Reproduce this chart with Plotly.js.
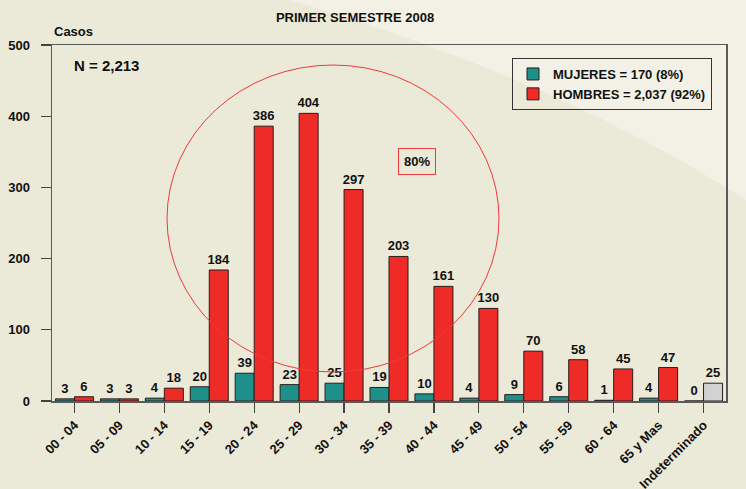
<!DOCTYPE html>
<html>
<head>
<meta charset="utf-8">
<script src="https://cdn.plot.ly/plotly-3.0.1.min.js"></script>
<style>
  html, body { margin: 0; padding: 0; }
  body {
    width: 746px; height: 489px; overflow: hidden;
    background-color: #EBE9D8;
    background-image: url("data:image/svg+xml;utf8,<svg xmlns='http://www.w3.org/2000/svg' width='746' height='489'><path d='M290 0 Q 560 80 746 200 L 746 0 Z' fill='%23F3F1E6'/></svg>");
    background-repeat: no-repeat;
  }
  #chart { width: 746px; height: 489px; }
</style>
</head>
<body>
<div id="chart"></div>
<script>
const categories = ["00 - 04","05 - 09","10 - 14","15 - 19","20 - 24","25 - 29","30 - 34","35 - 39","40 - 44","45 - 49","50 - 54","55 - 59","60 - 64","65 y Mas","Indeterminado"];
const mujeres = [3,3,4,20,39,23,25,19,10,4,9,6,1,4,0];
const hombres = [6,3,18,184,386,404,297,203,161,130,70,58,45,47,25];
const legendNames = ["MUJERES = 170 (8%)", "HOMBRES = 2,037 (92%)"];
const chartTitle = "PRIMER SEMESTRE 2008";
const yTitle = "Casos";
const totalLabel = "N = 2,213";
const ellipseLabel = "80%";

const FONT = "Liberation Sans, Arial, Helvetica, sans-serif";
const TEAL = "#1F8F89";
const RED = "#EE2B26";
const GRAY = "#D2D2D2";
const EDGE = "#2b1d1d";

const hombresColors = categories.map(c => c === "Indeterminado" ? GRAY : RED);

const lbl = {family: FONT, size: 13, color: "#111", weight: 700};

const traces = [
  {
    type: "bar", x: categories, y: mujeres, name: legendNames[0],
    marker: {color: TEAL, line: {color: EDGE, width: 1}},
    text: mujeres.map(String), textposition: "outside", cliponaxis: false,
    constraintext: "none",
    textfont: lbl, hoverinfo: "x+y"
  },
  {
    type: "bar", x: categories, y: hombres, name: legendNames[1],
    marker: {color: hombresColors, line: {color: EDGE, width: 1}},
    text: hombres.map(String), textposition: "outside", cliponaxis: false,
    constraintext: "none",
    textfont: lbl, hoverinfo: "x+y"
  }
];

const layout = {
  width: 746, height: 489,
  margin: {l: 52, r: 20, t: 45, b: 88, pad: 0},
  paper_bgcolor: "rgba(0,0,0,0)",
  plot_bgcolor: "rgba(0,0,0,0)",
  barmode: "group",
  bargap: 0.154,
  bargroupgap: 0,
  font: {family: FONT, size: 13, color: "#111"},
  title: {
    text: chartTitle, font: {family: FONT, size: 13, color: "#111", weight: 700},
    xref: "container", x: 355/746, xanchor: "center",
    yref: "container", y: 1 - 17/489, yanchor: "middle"
  },
  showlegend: true,
  legend: {
    x: (712-52)/674, xanchor: "right", y: (401-58)/356, yanchor: "top",
    bgcolor: "rgba(0,0,0,0)", bordercolor: "#333", borderwidth: 1,
    font: {family: FONT, size: 13, color: "#111", weight: 700},
    itemwidth: 30, tracegroupgap: 0, traceorder: "normal"
  },
  xaxis: {
    type: "category",
    showline: true, linecolor: "#5a5a5a", linewidth: 1.5, mirror: true,
    ticks: "outside", ticklen: 10, tickcolor: "#444", tickwidth: 1.2,
    tickangle: -45,
    tickfont: {family: FONT, size: 13, color: "#111", weight: 700},
    showgrid: false, zeroline: false, fixedrange: true
  },
  yaxis: {
    range: [0, 500], tickvals: [0,100,200,300,400,500],
    showline: true, linecolor: "#5a5a5a", linewidth: 1.5, mirror: true,
    ticks: "outside", ticklen: 10, tickcolor: "#444", tickwidth: 1.2,
    ticklabelstandoff: 8,
    tickfont: {family: FONT, size: 13, color: "#111", weight: 700},
    showgrid: false, zeroline: false, fixedrange: true
  },
  shapes: [
    {
      type: "circle", xref: "paper", yref: "paper",
      x0: (167-52)/674, x1: (499-52)/674,
      y0: (401-372)/356, y1: (401-65)/356,
      line: {color: "#EE3A3A", width: 1}, fillcolor: "rgba(0,0,0,0)", layer: "above"
    }
  ],
  annotations: [
    {
      text: yTitle, xref: "paper", yref: "paper", x: 0, xanchor: "left",
      y: (401-31)/356, yanchor: "middle", showarrow: false,
      font: {family: FONT, size: 13, color: "#111", weight: 700}
    },
    {
      text: totalLabel, xref: "paper", yref: "paper", x: (72-52)/674, xanchor: "left",
      y: (401-65)/356, yanchor: "middle", showarrow: false,
      font: {family: FONT, size: 15, color: "#111", weight: 700}
    },
    {
      text: ellipseLabel, xref: "paper", yref: "paper", x: (417-52)/674, xanchor: "center",
      y: (401-161)/356, yanchor: "middle", showarrow: false,
      font: {family: FONT, size: 13, color: "#111", weight: 700},
      bordercolor: "#EE3A3A", borderwidth: 1, borderpad: 5, bgcolor: "rgba(0,0,0,0)"
    }
  ]
};

Plotly.newPlot("chart", traces, layout, {displayModeBar: false, staticPlot: true});
</script>
</body>
</html>
